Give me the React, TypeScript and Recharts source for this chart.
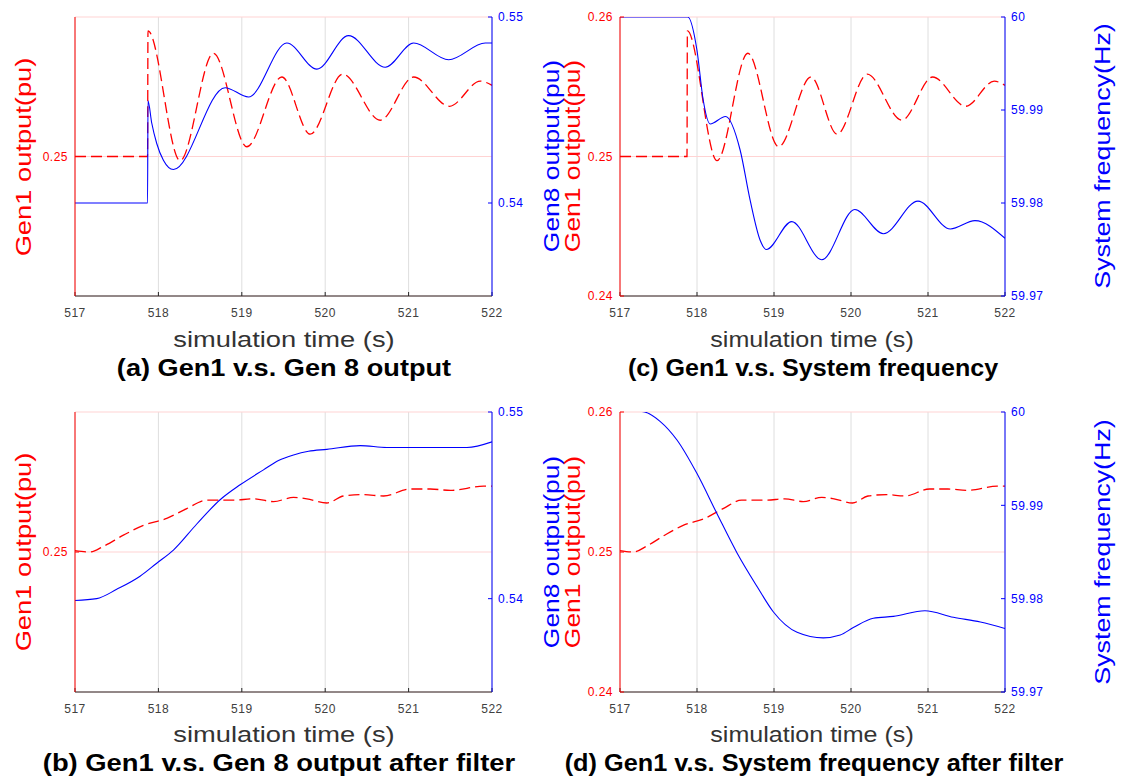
import React from "react";
import { LineChart, Line, XAxis, YAxis, CartesianGrid } from "recharts";

// time axis
const xTicks = [517, 518, 519, 520, 521, 522];

// Gen1 output, raw (panels a and c)
const gen1RawTime = [517, 517.87, 517.875, 518.26, 518.66, 519.06, 519.48, 519.82, 520.21, 520.66, 521.06, 521.49, 521.86, 522];
const gen1Raw = [0.25, 0.25, 0.259, 0.2497, 0.2574, 0.2507, 0.2557, 0.2516, 0.2559, 0.2526, 0.2557, 0.2536, 0.2554, 0.2551];

// Gen8 output, raw (panel a)
const gen8RawTime = [517, 517.87, 517.875, 517.92, 517.98, 518.06, 518.18, 518.8, 519.08, 519.54, 519.9, 520.28, 520.72, 521.06, 521.48, 521.92, 522];
const gen8Raw = [0.54, 0.54, 0.5455, 0.5443, 0.5432, 0.5423, 0.5418, 0.5462, 0.5457, 0.5486, 0.5472, 0.549, 0.5473, 0.5486, 0.5477, 0.5486, 0.5486];

// system frequency, raw (panel c)
const freqRawTime = [517, 517.88, 518.0, 518.08, 518.17, 518.37, 518.56, 518.69, 518.82, 518.9, 519.23, 519.62, 520.05, 520.42, 520.87, 521.29, 521.61, 522];
const freqRaw = [60, 60, 59.9964, 59.9911, 59.9885, 59.9893, 59.9857, 59.9803, 59.976, 59.975, 59.978, 59.9739, 59.9793, 59.9767, 59.9802, 59.9772, 59.9781, 59.9762];

// Gen1 output after filter (panels b and d)
const gen1FiltTime = [517, 517.18, 517.34, 517.58, 517.82, 518.1, 518.34, 518.58, 518.9, 519.14, 519.38, 519.62, 519.78, 520.02, 520.22, 520.46, 520.7, 521.02, 521.26, 521.5, 521.9, 522];
const gen1Filt = [0.2501, 0.25, 0.2504, 0.2512, 0.2519, 0.2524, 0.2531, 0.2537, 0.2537, 0.2538, 0.2536, 0.2539, 0.2538, 0.2535, 0.254, 0.2541, 0.254, 0.2545, 0.2545, 0.2544, 0.2547, 0.2547];

// Gen8 output after filter (panel b)
const gen8FiltTime = [517, 517.26, 517.5, 517.78, 517.98, 518.18, 518.46, 518.74, 518.98, 519.26, 519.44, 519.62, 519.8, 520.02, 520.42, 520.74, 521.1, 521.7, 522];
const gen8Filt = [0.5399, 0.54, 0.5405, 0.5412, 0.5419, 0.5426, 0.544, 0.5453, 0.5461, 0.5469, 0.5474, 0.5477, 0.5479, 0.548, 0.5482, 0.5481, 0.5481, 0.5481, 0.5484];

// system frequency after filter (panel d)
const freqFiltTime = [517, 517.32, 517.52, 517.74, 518, 518.26, 518.52, 518.78, 518.99, 519.3, 519.64, 519.86, 520.03, 520.29, 520.55, 520.96, 521.33, 521.68, 522];
const freqFilt = [60.0003, 60, 59.999, 59.997, 59.9934, 59.9891, 59.9849, 59.9813, 59.9786, 59.9764, 59.9758, 59.9761, 59.9769, 59.9779, 59.9781, 59.9787, 59.978, 59.9775, 59.9768];

// axis ticks
const gen1TicksShort = [0.25];
const gen1Ticks = [0.24, 0.25, 0.26];
const gen8Ticks = [0.54, 0.55];
const freqTicks = [59.97, 59.98, 59.99, 60];

type Row = { t: number; v: number };
const toRows = (t: number[], v: number[]): Row[] => t.map((x, i) => ({ t: x, v: v[i] }));

const RED = "#ff0000";
const BLUE = "#0000ff";
const AXIS = "#262626";
const FONT = "'Liberation Sans', Arial, Helvetica, sans-serif";

interface PanelProps {
  left: number;
  top: number;
  width: number;
  margin: { top: number; right: number; left: number; bottom: number };
  leftWidth: number;
  rightWidth: number;
  red: Row[];
  blue: Row[];
  redTicks: number[];
  blueDomain: [number, number];
  blueTicks: number[];
}

const Panel: React.FC<PanelProps> = ({ left, top, width, margin, leftWidth, rightWidth, red, blue, redTicks, blueDomain, blueTicks }) => (
  <div style={{ position: "absolute", left, top }}>
    <LineChart width={width} height={330} margin={margin}>
      <CartesianGrid xAxisId="x" yAxisId="left" horizontal={false} stroke="#dedede" />
      <CartesianGrid xAxisId="x" yAxisId="left" vertical={false} stroke="#ffd3d3" />
      <XAxis
        xAxisId="x"
        dataKey="t"
        type="number"
        domain={[517, 522]}
        ticks={xTicks}
        allowDataOverflow
        height={30}
        stroke={AXIS}
        tickSize={-4}
        tickMargin={16}
        tick={{ fill: "#404040", fontSize: 12, letterSpacing: 0.5 }}
      />
      <XAxis xAxisId="top" orientation="top" type="number" domain={[517, 522]} ticks={xTicks} height={0} stroke={AXIS} tick={false} tickLine={false} />
      <YAxis
        yAxisId="left"
        domain={[0.24, 0.26]}
        ticks={redTicks}
        allowDataOverflow
        width={leftWidth}
        stroke={RED}
        tickSize={-4}
        tickMargin={11}
        tick={{ fill: RED, fontSize: 12, letterSpacing: 0.5 }}
      />
      <YAxis
        yAxisId="right"
        orientation="right"
        domain={blueDomain}
        ticks={blueTicks}
        allowDataOverflow
        width={rightWidth}
        stroke={BLUE}
        tickSize={-4}
        tickMargin={10}
        tick={{ fill: BLUE, fontSize: 12, letterSpacing: 0.5 }}
      />
      <Line xAxisId="x" yAxisId="left" data={red} dataKey="v" type="monotone" stroke={RED} strokeWidth={1.3} strokeDasharray="11 5" dot={false} isAnimationActive={false} />
      <Line xAxisId="x" yAxisId="right" data={blue} dataKey="v" type="monotone" stroke={BLUE} strokeWidth={1.1} dot={false} isAnimationActive={false} />
    </LineChart>
  </div>
);

const Txt: React.FC<{ x: number; y: number; size: number; color: string; sx?: number; bold?: boolean; vertical?: boolean; children: React.ReactNode }> = ({ x, y, size, color, sx = 1.24, bold, vertical, children }) => (
  <div
    style={{
      position: "absolute",
      left: x,
      top: y,
      transform: `translate(-50%, -50%)${vertical ? " rotate(-90deg)" : ""} scaleX(${sx})`,
      fontSize: size,
      color,
      fontWeight: bold ? 700 : 400,
      whiteSpace: "nowrap",
      lineHeight: 1,
    }}
  >
    {children}
  </div>
);

const leftMargin = { top: 17, right: 20, left: 15, bottom: 4 };
const rightMargin = { top: 17, right: 61, left: 30, bottom: 4 };

export default function App() {
  return (
    <div style={{ position: "absolute", left: 0, top: 0, width: 1126, height: 780, background: "#fff", fontFamily: FONT, overflow: "hidden" }}>
      {/* (a) */}
      <Panel left={0} top={0} width={560} margin={leftMargin} leftWidth={60} rightWidth={48}
        red={toRows(gen1RawTime, gen1Raw)} blue={toRows(gen8RawTime, gen8Raw)}
        redTicks={gen1TicksShort} blueDomain={[0.535, 0.55]} blueTicks={gen8Ticks} />
      {/* (c) */}
      <Panel left={530} top={0} width={596} margin={rightMargin} leftWidth={60} rightWidth={60}
        red={toRows(gen1RawTime, gen1Raw)} blue={toRows(freqRawTime, freqRaw)}
        redTicks={gen1Ticks} blueDomain={[59.97, 60]} blueTicks={freqTicks} />
      {/* (b) */}
      <Panel left={0} top={395} width={560} margin={{ ...leftMargin, bottom: 3 }} leftWidth={60} rightWidth={48}
        red={toRows(gen1FiltTime, gen1Filt)} blue={toRows(gen8FiltTime, gen8Filt)}
        redTicks={gen1TicksShort} blueDomain={[0.535, 0.55]} blueTicks={gen8Ticks} />
      {/* (d) */}
      <Panel left={530} top={395} width={596} margin={{ ...rightMargin, bottom: 3 }} leftWidth={60} rightWidth={60}
        red={toRows(gen1FiltTime, gen1Filt)} blue={toRows(freqFiltTime, freqFilt)}
        redTicks={gen1Ticks} blueDomain={[59.97, 60]} blueTicks={freqTicks} />

      <Txt x={24} y={157} size={22} color={RED} vertical>Gen1 output(pu)</Txt>
      <Txt x={283.5} y={340} size={22} color="#333">simulation time (s)</Txt>
      <Txt x={284} y={368} size={23} color="#000" sx={1.18} bold>(a) Gen1 v.s. Gen 8 output</Txt>

      <Txt x={552} y={156} size={22} color={BLUE} sx={1.2} vertical>Gen8 output(pu)</Txt>
      <Txt x={573} y={156} size={22} color={RED} sx={1.2} vertical>Gen1 output(pu)</Txt>
      <Txt x={1103} y={156} size={22} color={BLUE} sx={1.22} vertical>System frequency(Hz)</Txt>
      <Txt x={812} y={340} size={22} color="#333" sx={1.14}>simulation time (s)</Txt>
      <Txt x={812.5} y={368} size={23} color="#000" sx={1.09} bold>(c) Gen1 v.s. System frequency</Txt>

      <Txt x={24} y={552} size={22} color={RED} vertical>Gen1 output(pu)</Txt>
      <Txt x={283.5} y={735} size={22} color="#333">simulation time (s)</Txt>
      <Txt x={279} y={763} size={23} color="#000" sx={1.19} bold>(b) Gen1 v.s. Gen 8 output after filter</Txt>

      <Txt x={552} y={552} size={22} color={BLUE} sx={1.2} vertical>Gen8 output(pu)</Txt>
      <Txt x={573} y={552} size={22} color={RED} sx={1.2} vertical>Gen1 output(pu)</Txt>
      <Txt x={1103} y={552} size={22} color={BLUE} sx={1.22} vertical>System frequency(Hz)</Txt>
      <Txt x={812} y={735} size={22} color="#333" sx={1.14}>simulation time (s)</Txt>
      <Txt x={813.5} y={763} size={23} color="#000" sx={1.1} bold>(d) Gen1 v.s. System frequency after filter</Txt>
    </div>
  );
}
